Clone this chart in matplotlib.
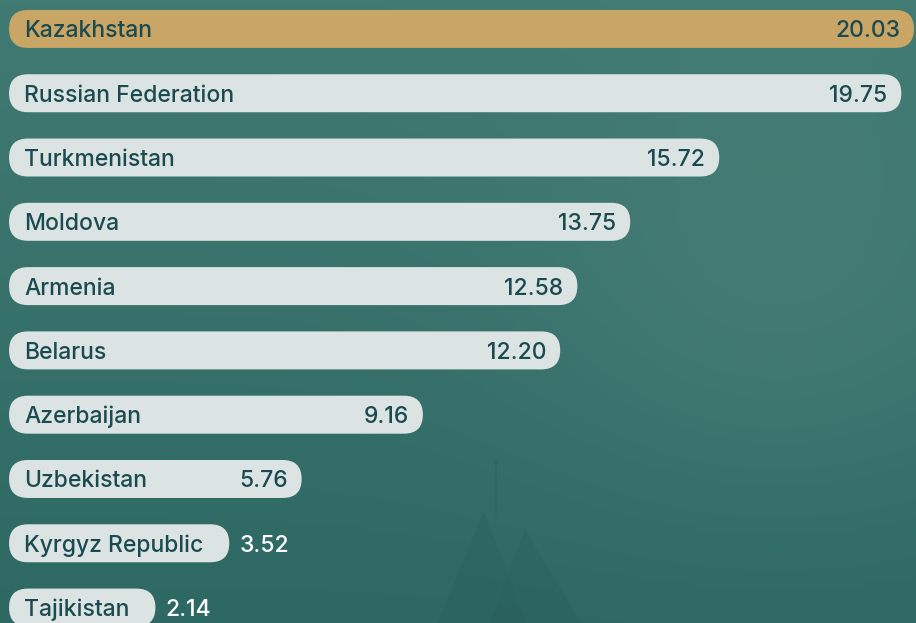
import matplotlib
matplotlib.use("Agg")
from matplotlib import pyplot as plt
from matplotlib.patches import FancyBboxPatch, Polygon
import numpy as np

# Data
countries = ["Kazakhstan", "Russian Federation", "Turkmenistan", "Moldova", "Armenia",
             "Belarus", "Azerbaijan", "Uzbekistan", "Kyrgyz Republic", "Tajikistan"]
values = [20.03, 19.75, 15.72, 13.75, 12.58, 12.20, 9.16, 5.76, 3.52, 2.14]

# Style
highlight = "#c9a566"
barColor = "#dbe4e3"
textColor = "#1b4a50"
fontName = ["Inter", "DejaVu Sans"]
fontSize = 16.5

W, H = 916, 623
fig = plt.figure(figsize=(W / 100, H / 100), dpi=100)
ax = fig.add_axes([0, 0, 1, 1])
xmin, xmax = -0.2, 20.075
ymin, ymax = -0.45, 9.24
ax.set_xlim(xmin, xmax)
ax.set_ylim(ymax, ymin)
ax.axis("off")

# px -> data unit conversion
pxX = (xmax - xmin) / W
pxY = (ymax - ymin) / H

# background gradient
yy, xx = np.mgrid[0:1:200j, 0:1:300j]
top = np.array([0x40, 0x7a, 0x72]) / 255
bot = np.array([0x2e, 0x68, 0x63]) / 255
bright = np.array([0x4c, 0x82, 0x7b]) / 255
grad = top[None, None, :] * (1 - yy[..., None]) + bot[None, None, :] * yy[..., None]
glow = np.exp(-((xx - 0.85) ** 2 / 0.08 + (yy - 0.4) ** 2 / 0.15))[..., None]
grad = grad * (1 - 0.6 * glow) + bright * 0.6 * glow
ax.imshow(grad, extent=[xmin, xmax, ymax, ymin], aspect="auto", zorder=0)

# faint building silhouette
for pts in [[(0.478, 0.0), (0.575, 0.0), (0.528, 0.18)],
            [(0.535, 0.0), (0.635, 0.0), (0.573, 0.15)]]:
    ax.add_patch(Polygon(pts, closed=True, transform=ax.transAxes,
                         facecolor="#285d59", alpha=0.3, edgecolor="none", zorder=1))
ax.plot([0.541, 0.541], [0.17, 0.26], transform=ax.transAxes, color="#285d59",
        alpha=0.4, lw=1.5, zorder=1)

fig.canvas.draw()
renderer = fig.canvas.get_renderer()

barH = 38 * pxY
radius = 19 * pxX
aspect = pxY / pxX
labelPad = 15 * pxX
valPad = 14 * pxX

for i, (name, val) in enumerate(zip(countries, values)):
    color = highlight if i == 0 else barColor
    lab = ax.text(labelPad, i, name, ha="left", va="center_baseline", color=textColor,
                  fontsize=fontSize, fontweight="medium", family=fontName, zorder=4)
    num = ax.text(0, i, f"{val:.2f}", ha="right", va="center_baseline", color=textColor,
                  fontsize=fontSize, fontweight="medium", family=fontName, zorder=4)
    labW = lab.get_window_extent(renderer).width * pxX
    numW = num.get_window_extent(renderer).width * pxX
    if val > labelPad + labW:
        # bar follows the value, but keeps room for label and value
        need = labelPad + labW + 92 * pxX + numW + valPad
        length = max(val, need)
        num.set_x(length - valPad)
    else:
        # too short: value goes outside the bar
        length = labelPad + labW + 26 * pxX
        num.set_x(length + 10 * pxX)
        num.set_ha("left")
        num.set_color("white")
    bar = FancyBboxPatch((0, i - barH / 2), length, barH,
                         boxstyle=f"round,pad=0,rounding_size={radius}",
                         mutation_aspect=aspect, facecolor=color, edgecolor="none",
                         zorder=3)
    ax.add_patch(bar)

fig.savefig("out.png", dpi=100)
